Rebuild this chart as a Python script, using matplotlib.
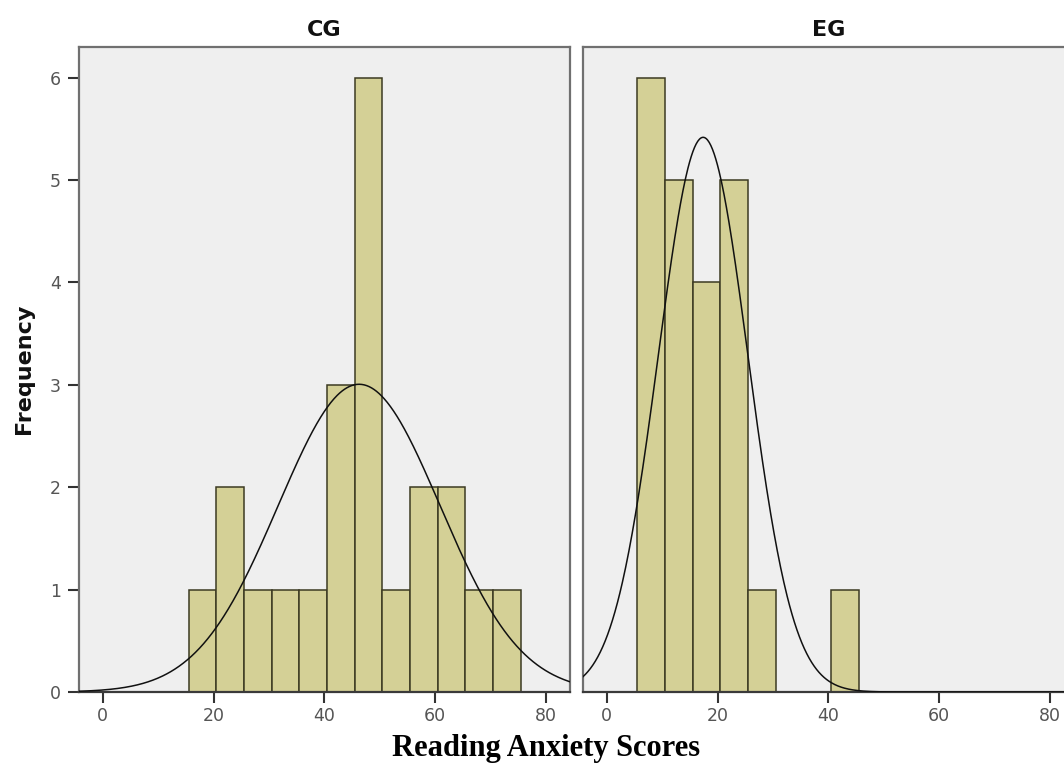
import numpy as np
import matplotlib
matplotlib.use("Agg")
import matplotlib.pyplot as plt

# ---- data ----
groups = ["CG", "EG"]
cg_bin_left = [15.5, 20.5, 25.5, 30.5, 35.5, 40.5, 45.5, 50.5, 55.5, 60.5, 65.5, 70.5]
cg_counts = [1, 2, 1, 1, 1, 3, 6, 1, 2, 2, 1, 1]
eg_bin_left = [5.5, 10.5, 15.5, 20.5, 25.5, 30.5, 35.5, 40.5]
eg_counts = [6, 5, 4, 5, 1, 0, 0, 1]
bin_width = 5
cg_mean, cg_sd = 46.3, 14.6
eg_mean, eg_sd = 17.4, 8.1
x_ticks = [0, 20, 40, 60, 80]
y_ticks = [0, 1, 2, 3, 4, 5, 6]

W, H = 1064, 764
fig = plt.figure(figsize=(W / 100, H / 100), dpi=100)

bar_fill = "#d4d096"
bar_edge = "#3c3a22"
panel_bg = "#efefef"
frame_col = "#707070"

def fpx(x0, x1, ytop, ybot):
    return [x0 / W, (H - ybot) / H, (x1 - x0) / W, (ybot - ytop) / H]

ax_left = fig.add_axes(fpx(79, 570, 47, 692))
ax_right = fig.add_axes(fpx(583, 1074, 47, 692))

panels = [
    (ax_left, "CG", cg_bin_left, cg_counts, cg_mean, cg_sd),
    (ax_right, "EG", eg_bin_left, eg_counts, eg_mean, eg_sd),
]

for ax, title, lefts, counts, mu, sd in panels:
    ax.set_facecolor(panel_bg)
    l = [a for a, c in zip(lefts, counts) if c > 0]
    c = [c for c in counts if c > 0]
    ax.bar(l, c, width=bin_width, align="edge", color=bar_fill,
           edgecolor=bar_edge, linewidth=1.1, zorder=2)
    ax.set_xlim(-4.3, 84.4)
    ax.set_ylim(0, 6.30)
    n = sum(counts)
    xs = np.linspace(-4.3, 84.4, 600)
    ys = n * bin_width / (sd * np.sqrt(2 * np.pi)) * np.exp(-0.5 * ((xs - mu) / sd) ** 2)
    ax.plot(xs, ys, color="#111111", linewidth=1.1, zorder=3)
    ax.set_xticks(x_ticks)
    ax.set_xticklabels([str(t) for t in x_ticks])
    ax.tick_params(axis="x", direction="out", length=8, width=1.5, color="#333333",
                   pad=3, labelsize=12.5, labelcolor="#555555")
    for s in ["top", "left", "right"]:
        ax.spines[s].set_color(frame_col)
        ax.spines[s].set_linewidth(1.6)
    ax.spines["bottom"].set_color("#3a3a3a")
    ax.spines["bottom"].set_linewidth(1.6)
    ax.set_title(title, fontsize=16, fontweight="bold", pad=8, color="#111111")

ax_left.set_yticks(y_ticks)
ax_left.set_yticklabels([str(t) for t in y_ticks])
ax_left.tick_params(axis="y", direction="out", length=8, width=1.5, color="#333333",
                    pad=5, labelsize=12.5, labelcolor="#555555")
ax_right.set_yticks([])

fig.text(24 / W, (H - 369) / H, "Frequency", rotation=90, ha="center", va="center",
         fontsize=16, fontweight="bold", color="#111111")
fig.text(546 / W, (H - 756) / H, "Reading Anxiety Scores", ha="center", va="baseline",
         fontsize=22, fontweight="bold", family="Liberation Serif", color="#000000")

fig.savefig("out.png", dpi=100)
